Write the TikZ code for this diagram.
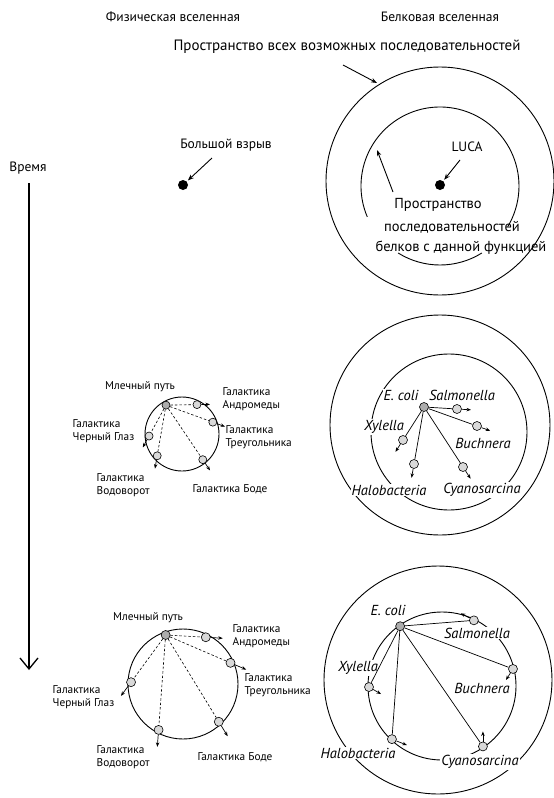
\documentclass[tikz,border=0pt]{standalone}
\usepackage{fontspec}
\setmainfont{PT Sans}
\usetikzlibrary{arrows.meta,calc}
\begin{document}
\begin{tikzpicture}[x=1pt,y=-1pt,
  ring/.style={draw,line width=0.9pt},
  gdot/.style={circle,draw,line width=0.6pt,fill=gray!30,inner sep=0pt,minimum size=9pt},
  ddot/.style={gdot,fill=gray!65},
  bdot/.style={circle,fill=black,inner sep=0pt,minimum size=10pt},
  ttl/.style={font=\fontsize{13.5}{16}\selectfont,inner sep=1pt},
  big/.style={font=\fontsize{15}{18}\selectfont,inner sep=1pt},
  inr/.style={font=\fontsize{14.5}{17}\selectfont,inner sep=1pt},
  gal/.style={font=\fontsize{11.3}{12.5}\selectfont,align=left,inner sep=0.5pt},
  sp/.style={font=\fontsize{14.5}{17}\selectfont\itshape,inner sep=1pt,fill=white},
  dline/.style={dash pattern=on 2.5pt off 2pt,line width=0.6pt},
  sline/.style={line width=0.7pt},
  sarr/.style={line width=0.7pt,-{Stealth[length=4.5pt,width=3.5pt]}},
  larr/.style={line width=0.9pt,-{Stealth[length=6pt,width=4.5pt]}}
]
\useasboundingbox (0,0) rectangle (554,798);
\fill[white] (0,0) rectangle (554,798);

% headings
\node[ttl] (phys) at (173,17) {Физическая вселенная};
\node[ttl] (prot) at (440,17) {Белковая вселенная};
\node[big] (space) at (347,47) {Пространство всех возможных последовательностей};

% ---------- top protein universe
\draw[ring] (440,181) circle[radius=114];
\draw[ring] (440,186) ++(157:79) arc[start angle=157,end angle=391,radius=79];
\draw[ring] (440,186) ++(58:79) arc[start angle=58,end angle=122,radius=79];
\coordinate (sa) at (343,65); \coordinate (sb) at (377,83);
\draw[larr] (sa) -- (sb);
\node[inr] (t1) at (438,205) {Пространство};
\node[inr] (t2) at (452,227) {последовательностей};
\node[inr] (t3) at (461,248) {белков с данной функцией};
\coordinate (pa) at (393,192); \coordinate (pb) at (377,150);
\draw[larr] (pa) -- (pb);
\node[ttl] (luca) at (467,147) {LUCA};
\node[bdot] (lucadot) at (440,185) {};
\coordinate (lucaa) at (460,160);
\draw[larr,shorten >=1.5pt] (lucaa) -- (lucadot);

% ---------- big bang
\node[ttl] (bb) at (226,145) {Большой взрыв};
\node[bdot] (bbdot) at (183,185) {};
\coordinate (bba) at (212,158);
\draw[larr,shorten >=1.5pt] (bba) -- (bbdot);

% ---------- time
\node[ttl] (time) at (28,168) {Время};
\coordinate (ts) at (29,183); \coordinate (te) at (29,670);
\draw[line width=1.8pt,-{Straight Barb[length=11pt,width=18pt,line width=1.3pt]}] (ts) -- (te);

% ---------- middle galaxies
\coordinate (ga) at (182,434);
\draw[ring] (ga) circle[radius=37];
\node[ddot,minimum size=8pt] (mw1) at ([shift={(241:33)}]ga) {};
\node[gdot,minimum size=8pt] (and1) at ([shift={(297:33)}]ga) {};
\node[gdot,minimum size=8pt] (tri1) at ([shift={(339:33)}]ga) {};
\node[gdot,minimum size=8pt] (be1) at ([shift={(176.5:33)}]ga) {};
\node[gdot,minimum size=8pt] (wp1) at ([shift={(138.7:33)}]ga) {};
\node[gdot,minimum size=8pt] (bo1) at ([shift={(51:33)}]ga) {};
\foreach \g in {and1,tri1,be1,wp1,bo1}{
  \draw[dline] (mw1) -- (\g);
  \draw[sarr] (\g) -- ($(\g)!-13pt!(mw1)$);
}
\node[gal] (lmw1) at (140,387) {Млечный путь};
\node[gal,anchor=west] (land1) at (222,399) {Галактика\\Андромеды};
\node[gal,anchor=west] (ltri1) at (225,437) {Галактика\\Треугольника};
\node[gal,anchor=west] (lbe1) at (72,431) {Галактика\\Черный Глаз};
\node[gal,anchor=west] (lwp1) at (96,485) {Галактика\\Водоворот};
\node[gal] (lbo1) at (230,489) {Галактика Боде};

% ---------- middle proteins
\draw[ring] (440,425) circle[radius=110];
\draw[ring] (449,432) circle[radius=78];
\node[sp] (lec1) at (401,395) {E. coli};
\node[sp] (lsa1) at (462,395) {Salmonella};
\node[sp] (lxy1) at (384,427) {Xylella};
\node[sp] (lbu1) at (483,443) {Buchnera};
\node[sp] (lha1) at (389,490) {Halobacteria};
\node[sp] (lcy1) at (482,490) {Cyanosarcina};
\node[ddot] (ec1) at (424,407) {};
\node[gdot] (sa1) at (457,409) {};
\node[gdot] (bu1) at (477,426) {};
\node[gdot] (xy1) at (403,440) {};
\node[gdot] (ha1) at (414,464) {};
\node[gdot] (cy1) at (463,467) {};
\foreach \s in {sa1,bu1,xy1,ha1,cy1}{
  \draw[sline] (ec1) -- (\s);
  \draw[sarr] (\s) -- ($(\s)!-14pt!(ec1)$);
}

% ---------- bottom galaxies
\coordinate (gb) at (183,684);
\draw[ring] (gb) circle[radius=55];
\node[ddot] (mw2) at ([shift={(250.5:52)}]gb) {};
\node[gdot] (and2) at ([shift={(296:52)}]gb) {};
\node[gdot] (tri2) at ([shift={(336:52)}]gb) {};
\node[gdot] (be2) at ([shift={(182:52)}]gb) {};
\node[gdot] (wp2) at ([shift={(118:52)}]gb) {};
\node[gdot] (bo2) at ([shift={(46.5:52)}]gb) {};
\foreach \g in {and2,tri2,be2,wp2,bo2}{
  \draw[dline] (mw2) -- (\g);
  \draw[sarr] (\g) -- ($(\g)!-17pt!(mw2)$);
}
\node[gal] (lmw2) at (148,618) {Млечный путь};
\node[gal,anchor=west] (land2) at (232,636) {Галактика\\Андромеды};
\node[gal,anchor=west] (ltri2) at (244,685) {Галактика\\Треугольника};
\node[gal,anchor=west] (lbe2) at (52,697) {Галактика\\Черный Глаз};
\node[gal,anchor=west] (lwp2) at (96,757) {Галактика\\Водоворот};
\node[gal] (lbo2) at (235,757) {Галактика Боде};

% ---------- bottom proteins
\coordinate (pc) at (442,686);
\draw[ring] (438,680) circle[radius=114];
\draw[ring] (pc) circle[radius=74];
\node[sp] (lec2) at (388,610) {E. coli};
\node[sp] (lsa2) at (477,633) {Salmonella};
\node[sp] (lbu2) at (482,688) {Buchnera};
\node[sp] (lxy2) at (358,668) {Xylella};
\node[sp] (lha2) at (358,753) {Halobacteria};
\node[sp] (lcy2) at (480,762) {Cyanosarcina};
\node[ddot] (ec2) at ([shift={(235:73)}]pc) {};
\node[gdot] (sa2) at ([shift={(295.9:73)}]pc) {};
\node[gdot] (bu2) at ([shift={(346.5:73)}]pc) {};
\node[gdot] (xy2) at ([shift={(179.2:73)}]pc) {};
\node[gdot] (ha2) at ([shift={(133.3:73)}]pc) {};
\node[gdot] (cy2) at ([shift={(55.9:73)}]pc) {};
\foreach \s in {sa2,bu2,xy2,ha2,cy2}{
  \draw[sline] (ec2) -- (\s);
}
\draw[sarr] (sa2) -- ([shift={(-13,-7)}]sa2.center);
\draw[sarr] (bu2) -- ([shift={(-7,11)}]bu2.center);
\draw[sarr] (xy2) -- ([shift={(12,7)}]xy2.center);
\draw[sarr] (ha2) -- ([shift={(15,6)}]ha2.center);
\draw[sarr] (cy2) -- ([shift={(0,-15)}]cy2.center);
\end{tikzpicture}
\end{document}
